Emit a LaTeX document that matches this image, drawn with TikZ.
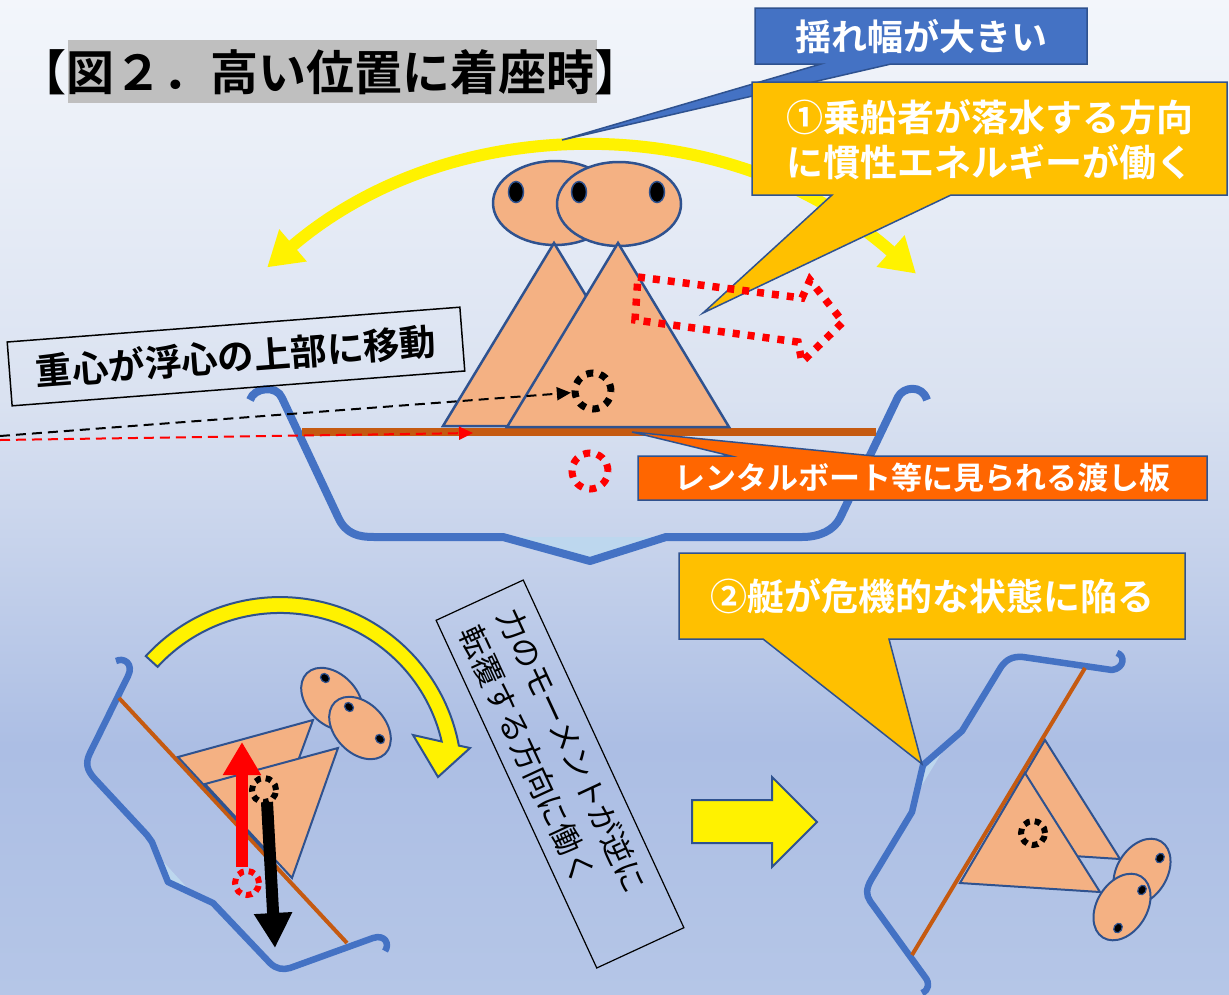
\documentclass[tikz,border=0pt]{standalone}
\usepackage{fontspec}
\usetikzlibrary{arrows.meta}
\newfontfamily\jp{Noto Sans CJK JP}
\newfontfamily\jpb{Noto Sans CJK JP Bold}
\definecolor{hullblue}{RGB}{68,114,196}
\definecolor{edgeblue}{RGB}{47,82,143}
\definecolor{skin}{RGB}{244,177,131}
\definecolor{plank}{RGB}{197,90,17}
\definecolor{gold}{RGB}{255,192,0}
\definecolor{tangerine}{RGB}{255,102,0}
\definecolor{bilge}{RGB}{189,215,238}
\definecolor{titlegray}{RGB}{191,191,191}
\definecolor{bgA}{RGB}{243,246,251}
\definecolor{bgB}{RGB}{218,226,241}
\definecolor{bgC}{RGB}{172,190,228}
\definecolor{bgD}{RGB}{181,198,231}
% the picture's box is mapped onto 25bp..75bp of the shading
\pgfdeclareverticalshading{backdrop}{100bp}{color(0bp)=(bgD); color(25bp)=(bgD); color(37.5bp)=(bgC); color(55bp)=(bgB); color(75bp)=(bgA); color(100bp)=(bgA)}
\begin{document}
\begin{tikzpicture}[x=1pt,y=1pt,
  hull/.style={draw=hullblue, line width=8pt, line join=round},
  hullsmall/.style={draw=hullblue, line width=6.5pt, line join=round},
  deck/.style={draw=plank, line width=8pt},
  decksmall/.style={draw=plank, line width=4pt},
  torso/.style={fill=skin, draw=edgeblue, line width=2.5pt},
  headshape/.style={fill=skin, draw=edgeblue, line width=2.5pt},
  eyeball/.style={fill=black, draw=edgeblue, line width=1.5pt},
  markspot/.style={circle, inner sep=0pt},
  cgring/.style={line width=7pt, dash pattern=on 7pt off 7pt},
  cgringsmall/.style={line width=6pt, dash pattern=on 6pt off 5pt},
  callout/.style={fill=gold, draw=edgeblue, line width=1.5pt, line join=miter},
  whitetext/.style={text=white, inner sep=0pt},
  blockarrow/.style={fill=yellow, draw=edgeblue, line width=2pt},
  tipsmall/.style={-{Triangle[length=14pt,width=13pt]}}
]
\useasboundingbox (0,0) rectangle (1229,-994);
\shade[shading=backdrop] (0,0) rectangle (1229,-994);

% title
\fill[titlegray] (68,-40) rectangle (597,-103);
\node[font=\jpb\fontsize{48}{48}\selectfont, inner sep=0pt] (title) at (331,-72) {【図２．高い位置に着座時】};

% swinging range arrow
\draw[line width=12pt, color=yellow, {Triangle[length=34pt,width=40pt]}-{Triangle[length=34pt,width=40pt]}]
  (588,-643) ++(130.5:494) arc[start angle=130.5, end angle=48.4, radius=494];

% callout: large sway
\filldraw[fill=hullblue, draw=edgeblue, line width=1.5pt] (755,-8) -- (1087,-8) -- (1087,-64) -- (891,-64) -- (562,-140) -- (821,-64) -- (755,-64) -- cycle;
\node[whitetext, font=\jpb\fontsize{36}{36}\selectfont] (swaylabel) at (921,-37) {揺れ幅が大きい};

% upright boat
\fill[bilge] (503,-537) -- (666,-537) -- (590,-561) -- cycle;
\draw[hull] (250,-400) .. controls (254,-387) and (277,-385) .. (282,-398) -- (338,-517)
  .. controls (346,-535) and (360,-537) .. (374,-537) -- (503,-537) -- (590,-561) -- (666,-537) -- (802,-537)
  .. controls (820,-537) and (834,-530) .. (840,-518) -- (898,-397) .. controls (903,-387) and (922,-384) .. (927,-400);
\draw[deck] (302,-432) -- (876,-432);

% two seated passengers
\draw[headshape] (555,-203) ellipse [x radius=62, y radius=42];
\filldraw[eyeball] (516,-192) ellipse [x radius=7.5, y radius=10.5];
\draw[torso] (554,-243) -- (443,-426) -- (665,-426) -- cycle;
\draw[headshape] (619,-204) ellipse [x radius=62, y radius=42];
\filldraw[eyeball] (579,-192) ellipse [x radius=7.5, y radius=10.5];
\filldraw[eyeball] (657,-192) ellipse [x radius=7.5, y radius=10.5];
\draw[torso] (618,-243) -- (507,-427) -- (729,-427) -- cycle;

% centre of gravity and centre of buoyancy
\node[markspot, minimum size=44pt] (cgtop) at (593,-391) {};
\node[markspot, minimum size=44pt] (cbtop) at (590,-471) {};
\draw[cgring, black] (cgtop.center) circle [radius=18];
\draw[cgring, red] (cbtop.center) circle [radius=18];
\coordinate (blackstart) at (0,-436);
\coordinate (redstart) at (0,-440);
\coordinate (redend) at (473,-433);
\draw[black, line width=2pt, dash pattern=on 10pt off 6pt, tipsmall] (blackstart) -- (cgtop);
\draw[red, line width=2pt, dash pattern=on 10pt off 6pt, tipsmall] (redstart) -- (redend);

% callout 1
\filldraw[callout] (752,-82) -- (1227,-82) -- (1227,-195) -- (951,-195) -- (703,-313) -- (832,-195) -- (752,-195) -- cycle;
\node[whitetext, align=center, font=\jpb\fontsize{37}{45}\selectfont] (inertia) at (990,-140) {①乗船者が落水する方向\\に慣性エネルギーが働く};

% falling direction outline
\draw[red, line width=7.5pt, dash pattern=on 7pt off 8pt] (638,-277) -- (802,-298) -- (810,-280) -- (843,-322) -- (802,-362) -- (798,-342) -- (635,-320) -- cycle;

% label: centre of gravity above centre of buoyancy
\node[draw=black, line width=1.5pt, rotate=4.4, minimum width=454pt, minimum height=64pt, inner sep=0pt,
  font=\jpb\fontsize{36.5}{36.5}\selectfont] (cglabel) at (236,-356.5) {重心が浮心の上部に移動};

% callout: boarding plank
\filldraw[fill=tangerine, draw=edgeblue, line width=1.5pt] (638,-456) -- (731,-456) -- (632,-432) -- (874,-456) -- (1207,-456) -- (1207,-500) -- (638,-500) -- cycle;
\node[whitetext, font=\jpb\fontsize{31}{31}\selectfont] (planklabel) at (922,-478) {レンタルボート等に見られる渡し板};

% ---- heeling boat ----
\filldraw[blockarrow] (145.8,-656.1) arc[start angle=137.5, end angle=10.6, radius=182]
  -- (470,-748) -- (438,-777) -- (413,-735) -- (441.7,-741.5)
  arc[start angle=13.05, end angle=137.5, radius=166] -- cycle;
\fill[bilge] (157,-855) -- (168,-882) -- (192,-893) -- cycle;
\draw[hullsmall] (116,-661) .. controls (124,-657) and (134,-664) .. (128,-676) -- (90,-753)
  .. controls (85,-763) and (87,-770) .. (94,-778) -- (147,-835) -- (152,-842) -- (168,-882) -- (213,-903)
  -- (270,-963) .. controls (276,-969) and (283,-970) .. (290,-968) -- (373,-938)
  .. controls (385,-934) and (390,-944) .. (385,-951);
\draw[decksmall] (119,-698) -- (347,-943);
\draw[torso, line width=2pt] (178,-757) -- (313,-720) -- (265,-851) -- cycle;
\draw[headshape, line width=2pt] (332,-699) ellipse [x radius=36, y radius=25, rotate=-46];
\filldraw[eyeball, line width=1.2pt] (325,-678) ellipse [x radius=5, y radius=4, rotate=-46];
\draw[torso, line width=2pt] (205,-784) -- (338,-748) -- (292,-878) -- cycle;
\draw[headshape, line width=2pt] (360,-728) ellipse [x radius=36, y radius=25, rotate=-46];
\filldraw[eyeball, line width=1.2pt] (349,-707) ellipse [x radius=5, y radius=4, rotate=-46];
\filldraw[eyeball, line width=1.2pt] (380,-739) ellipse [x radius=5, y radius=4, rotate=-46];
\node[markspot, minimum size=26pt] (cbheel) at (247,-883) {};
\draw[cgringsmall, red] (cbheel.center) circle [radius=12];
\coordinate (buoyfoot) at (242,-867);
\coordinate (buoytip) at (242,-742);
\draw[red, line width=12pt, -{Triangle[length=33pt,width=36pt]}] (buoyfoot) -- (buoytip);
\node[markspot, minimum size=26pt] (cgheel) at (264,-790) {};
\draw[cgringsmall, black] (cgheel.center) circle [radius=12];
\coordinate (weightfoot) at (267,-802);
\coordinate (weighttip) at (275,-948);
\draw[black, line width=12pt, -{Triangle[length=35pt,width=36pt]}] (weightfoot) -- (weighttip);

% note on the righting moment
\node[draw=black, line width=1.2pt, rotate=-65.2, minimum width=383pt, minimum height=96pt, text width=341pt,
  inner xsep=21pt, inner ysep=0pt, align=left, font=\jp\fontsize{31}{42}\selectfont] (momentnote) at (560,-774)
  {力のモーメントが逆に\\転覆する方向に働く};

% progression arrow
\filldraw[blockarrow] (692,-800) -- (772,-800) -- (772,-777) -- (817,-822) -- (772,-867) -- (772,-843) -- (692,-843) -- cycle;

% ---- capsizing boat ----
\fill[bilge] (925,-767) -- (942,-752) -- (919,-790) -- cycle;
\draw[hullsmall] (1117,-653) .. controls (1125,-655) and (1125,-668) .. (1112,-670) -- (1023,-657)
  .. controls (1012,-656) and (1006,-660) .. (1001,-667) -- (962,-731) -- (923,-765) -- (912,-812) -- (871,-880)
  .. controls (866,-889) and (866,-895) .. (870,-901) -- (925,-977) .. controls (930,-983) and (929,-990) .. (922,-993);
\draw[decksmall] (1085,-668) -- (912,-955);
\draw[torso, line width=2pt] (1045,-740) -- (1120,-859) -- (980,-850) -- cycle;
\draw[headshape, line width=2pt] (1142,-872) ellipse [x radius=36, y radius=25, rotate=58];
\filldraw[eyeball, line width=1.2pt] (1160,-858) ellipse [x radius=5, y radius=4, rotate=58];
\draw[torso, line width=2pt] (1025,-773) -- (1100,-892) -- (960,-883) -- cycle;
\draw[headshape, line width=2pt] (1122,-907) ellipse [x radius=36, y radius=25, rotate=58];
\filldraw[eyeball, line width=1.2pt] (1142,-890) ellipse [x radius=5, y radius=4, rotate=58];
\filldraw[eyeball, line width=1.2pt] (1118,-928) ellipse [x radius=5, y radius=4, rotate=58];
\node[markspot, minimum size=26pt] (cgcapsize) at (1033,-833) {};
\draw[cgringsmall, black] (cgcapsize.center) circle [radius=12];

% callout 2
\filldraw[callout] (679,-553) -- (1185,-553) -- (1185,-639) -- (889,-639) -- (922,-764) -- (763,-639) -- (679,-639) -- cycle;
\node[whitetext, font=\jpb\fontsize{37}{37}\selectfont] (danger) at (932,-596) {②艇が危機的な状態に陥る};
\end{tikzpicture}
\end{document}
